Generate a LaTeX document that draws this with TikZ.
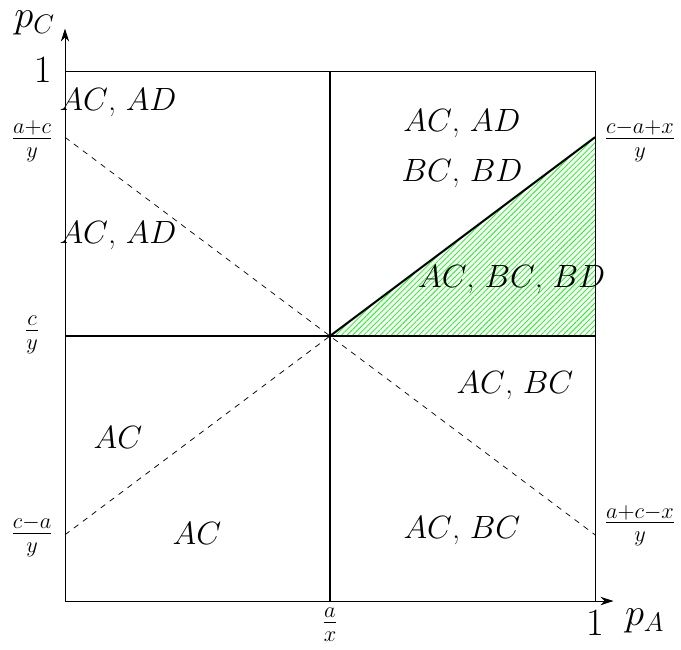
\documentclass[tikz,border=0pt]{standalone}
\usetikzlibrary{arrows.meta,patterns.meta}
\begin{document}
\begin{tikzpicture}[x=1cm,y=1cm,
  lbl/.style={font=\LARGE},
  tick/.style={font=\LARGE},
  big/.style={font=\huge},
  thin line/.style={line width=0.5pt},
  mid line/.style={line width=1.1pt},
  guide/.style={dashed,line width=0.4pt},
  axis/.style={line width=0.5pt,-{Stealth[length=7pt,width=4.5pt]}}]
\useasboundingbox (-1.226,-0.906) rectangle (11.623,11.34);
% coordinates
\coordinate (O) at (0,0);
\coordinate (BR) at (10,0);
\coordinate (TR) at (10,10);
\coordinate (TL) at (0,10);
\coordinate (M) at (5,5);
\coordinate (ML) at (0,5);
\coordinate (MR) at (10,5);
\coordinate (MB) at (5,0);
\coordinate (MT) at (5,10);
\coordinate (LU) at (0,8.75);
\coordinate (LD) at (0,1.25);
\coordinate (RU) at (10,8.75);
\coordinate (RD) at (10,1.25);
\coordinate (XE) at (10.35,0);
\coordinate (YE) at (0,10.8);
% hatched region
\fill[pattern={Lines[angle=45,distance=2.1pt,line width=0.4pt]},pattern color=green] (M) -- (MR) -- (RU) -- cycle;
% box
\draw[thin line] (TL) -- (TR) -- (BR);
\draw[axis] (O) -- (XE);
\draw[axis] (O) -- (YE);
% dashed guides
\draw[guide] (LU) -- (M) -- (RD);
\draw[guide] (LD) -- (M) -- (RU);
% middle lines
\draw[mid line] (MB) -- (MT);
\draw[mid line] (ML) -- (MR);
\draw[mid line] (M) -- (RU);
% tick labels
\node[big] (one y) at (-0.42,10.02) {$1$};
\node[big,inner sep=0pt] (pc) at (-0.57,10.9) {$p_C$};
\node[tick] (lu) at (-0.62,8.68) {$\frac{a+c}{y}$};
\node[tick] (ml) at (-0.62,5.02) {$\frac{c}{y}$};
\node[tick] (ld) at (-0.62,1.23) {$\frac{c-a}{y}$};
\node[tick] (mb) at (5,-0.45) {$\frac{a}{x}$};
\node[big] (one x) at (10,-0.42) {$1$};
\node[big] (pa) at (10.94,-0.38) {$p_A$};
\node[tick] (ru) at (10.85,8.68) {$\frac{c-a+x}{y}$};
\node[tick] (rd) at (10.85,1.42) {$\frac{a+c-x}{y}$};
% region labels
\node[lbl] (r1) at (1.0,9.40) {$AC$, $AD$};
\node[lbl] (r2) at (1.0,6.90) {$AC$, $AD$};
\node[lbl] (r3) at (7.49,9.00) {$AC$, $AD$};
\node[lbl] (r4) at (7.49,8.06) {$BC$, $BD$};
\node[lbl] (r5) at (8.43,6.06) {$AC$, $BC$, $BD$};
\node[lbl] (r6) at (8.49,4.06) {$AC$, $BC$};
\node[lbl] (r7) at (1.0,3.09) {$AC$};
\node[lbl] (r8) at (2.49,1.28) {$AC$};
\node[lbl] (r9) at (7.49,1.32) {$AC$, $BC$};
\end{tikzpicture}
\end{document}
